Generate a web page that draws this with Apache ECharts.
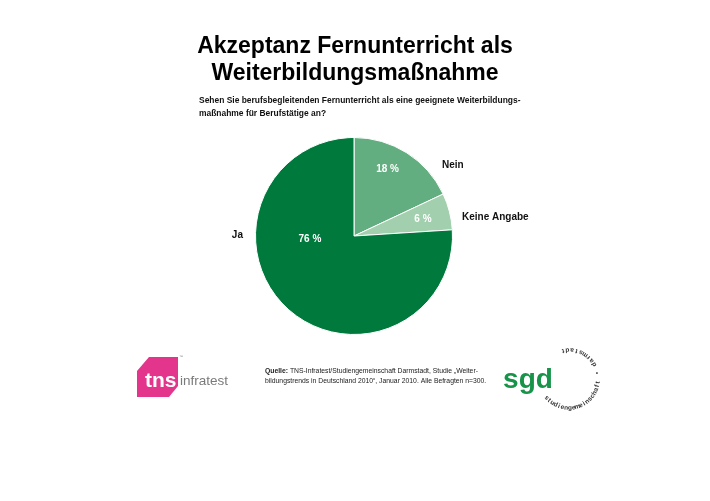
<!DOCTYPE html>
<html>
<head>
<meta charset="utf-8">
<script src="https://cdn.jsdelivr.net/npm/echarts@6/dist/echarts.min.js"></script>
<style>html,body{margin:0;padding:0;background:#fff}#c{width:710px;height:501px}</style>
</head>
<body>
<div id="c"></div>
<script>
// ---- data ----
var categories = ['Nein', 'Keine Angabe', 'Ja'];
var values = [18, 6, 76];
var valueLabels = ['18 %', '6 %', '76 %'];
var titleLines = ['Akzeptanz Fernunterricht als', 'Weiterbildungsmaßnahme'];
var questionLines = ['Sehen Sie berufsbegleitenden Fernunterricht als eine geeignete Weiterbildungs-', 'maßnahme für Berufstätige an?'];
var sourceLines = ['TNS-Infratest/Studiengemeinschaft Darmstadt, Studie „Weiter-', 'bildungstrends in Deutschland 2010“, Januar 2010. Alle Befragten n=300.'];

// ---- styles ----
var colors = ['#63ae80', '#a2d0ae', '#007a3c'];
var innerOffsets = [[5.6, -22.4], [18.3, -3.8], [-8.3, -34.9]];
var outerOffsets = [[30.2, 12.2], [7.6, 5.5], [-38.6, -72.8]];
var FONT = '"Liberation Sans", Arial, Helvetica, sans-serif';
var CENTER = [354, 236];
var RADIUS = 98.5;

var chart = echarts.init(document.getElementById('c'), null, {renderer: 'canvas'});

var innerData = categories.map(function (c, i) {
  return {
    name: c, value: values[i],
    itemStyle: {color: colors[i]},
    label: {formatter: valueLabels[i], offset: innerOffsets[i]}
  };
});
var outerData = categories.map(function (c, i) {
  return {
    name: c, value: values[i],
    label: {formatter: c, offset: outerOffsets[i]}
  };
});

// sgd ring text
var ringGraphics = [];
(function () {
  var cx = 569, cy = 379, R = 29;
  var s1 = 'studiengemeinschaft';
  var s2 = 'darmstadt';
  function put(ch, deg) {
    var t = deg * Math.PI / 180;
    ringGraphics.push({
      type: 'text', x: cx + R * Math.cos(t), y: cy + R * Math.sin(t),
      rotation: (90 - deg) * Math.PI / 180,
      style: {text: ch, font: 'bold 6.5px ' + FONT, fill: '#333', align: 'center', verticalAlign: 'middle'},
      silent: true
    });
  }
  for (var i = 0; i < s1.length; i++) put(s1[i], 140 - 7.4 * i);
  put('•', -12);
  for (var j = 0; j < s2.length; j++) put(s2[j], -30 - 9 * j);
})();

var option = {
  backgroundColor: '#ffffff',
  animation: false,
  title: {
    text: titleLines.join('\n'),
    left: 'center',
    top: 28,
    textStyle: {fontFamily: FONT, fontWeight: 'bold', fontSize: 23, color: '#000', lineHeight: 27}
  },
  graphic: [
    {
      type: 'text', left: 199, top: 94,
      style: {text: questionLines.join('\n'), font: 'bold 8.45px ' + FONT, fill: '#111', lineHeight: 13}
    },
    {
      type: 'text', left: 265, top: 366,
      style: {
        text: '{b|Quelle:} ' + sourceLines[0] + '\n' + sourceLines[1],
        font: '6.8px ' + FONT, fill: '#222', lineHeight: 10,
        rich: {b: {fontWeight: 'bold', fontSize: 6.8, fontFamily: FONT, fill: '#222'}}
      }
    },
    // tns infratest logo
    {
      type: 'polygon',
      shape: {points: [[137, 371], [149, 357], [178, 357], [178, 386], [169, 397], [137, 397]]},
      style: {fill: '#e2358b'}, silent: true
    },
    {
      type: 'text', x: 145, y: 381,
      style: {text: 'tns', font: 'bold 21px ' + FONT, fill: '#ffffff', verticalAlign: 'middle'}
    },
    {
      type: 'text', x: 179, y: 355,
      style: {text: '™', font: '4px ' + FONT, fill: '#888'}
    },
    {
      type: 'text', x: 180, y: 381,
      style: {text: 'infratest', font: '13.5px ' + FONT, fill: '#7a7a7a', verticalAlign: 'middle'}
    },
    // sgd logo
    {
      type: 'text', x: 528, y: 380,
      style: {text: 'sgd', font: 'bold 28px ' + FONT, fill: '#17934a', align: 'center', verticalAlign: 'middle'}
    }
  ].concat(ringGraphics),
  series: [
    {
      type: 'pie',
      center: CENTER,
      radius: RADIUS,
      startAngle: 90,
      clockwise: true,
      silent: true,
      itemStyle: {borderColor: '#ffffff', borderWidth: 1},
      label: {
        show: true, position: 'inside',
        fontFamily: FONT, fontWeight: 'bold', fontSize: 10, color: '#ffffff'
      },
      labelLine: {show: false},
      emphasis: {disabled: true},
      data: innerData
    },
    {
      type: 'pie',
      center: CENTER,
      radius: RADIUS,
      startAngle: 90,
      clockwise: true,
      silent: true,
      avoidLabelOverlap: false,
      itemStyle: {color: 'rgba(0,0,0,0)', borderWidth: 0},
      label: {
        show: true, position: 'outside',
        fontFamily: FONT, fontWeight: 'bold', fontSize: 10, color: '#111'
      },
      labelLine: {show: false, length: 0, length2: 0},
      emphasis: {disabled: true},
      data: outerData
    }
  ]
};
chart.setOption(option);
</script>
</body>
</html>
